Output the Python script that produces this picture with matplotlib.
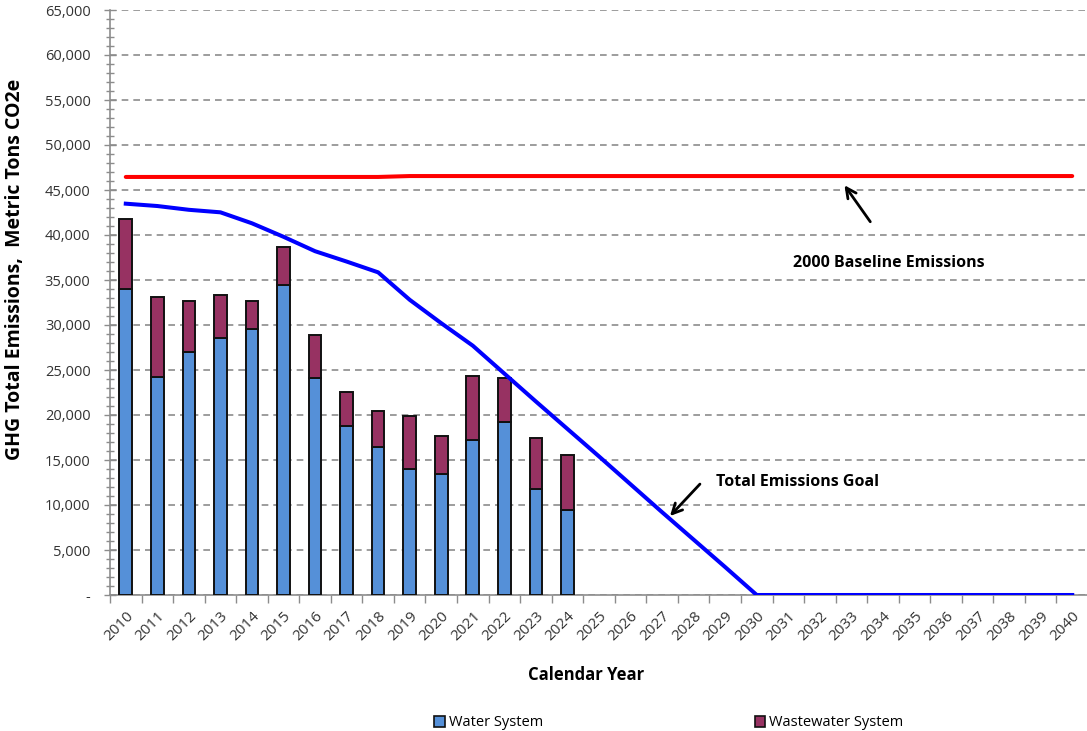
import matplotlib
matplotlib.use("Agg")
import matplotlib.pyplot as plt
from matplotlib.ticker import FuncFormatter, MultipleLocator, FixedLocator
from matplotlib.patches import Patch
import numpy as np

plt.rcParams['font.family'] = ['Open Sans', 'DejaVu Sans']

years = list(range(2010, 2041))
bar_years = list(range(2010, 2025))
water = [34000, 24200, 27000, 28600, 29600, 34500, 24100, 18800, 16500, 14000,
         13400, 17200, 19200, 11800, 9400]
total = [41800, 33100, 32700, 33300, 32700, 38700, 28900, 22600, 20400, 19900,
         17700, 24300, 24100, 17400, 15600]
wastewater = [t - w for t, w in zip(total, water)]

baseline = [46450] * 9 + [46550] * 22
goal = [43480, 43220, 42800, 42520, 41300, 39800, 38200, 37050, 35850, 32800,
        30200, 27700, 24600, 21500, 18450, 15400, 12300, 9200, 6150, 3100,
        0, 0, 0, 0, 0, 0, 0, 0, 0, 0, 0]

W, H = 1087, 731
fig = plt.figure(figsize=(W / 100, H / 100), dpi=100)
ax = fig.add_axes([110 / W, 1 - 595 / H, (1088 - 110) / W, (595 - 10) / H])

x_all = np.arange(len(years))
x_bar = np.arange(len(bar_years))

blue = '#5590D8'
maroon = '#973262'
ax.bar(x_bar, water, width=0.40, color=blue, edgecolor='#111111', linewidth=1.4, zorder=3)
ax.bar(x_bar, wastewater, bottom=water, width=0.40, color=maroon, edgecolor='#111111',
       linewidth=1.4, zorder=3)
ax.plot(x_all, baseline, color='#FF0000', lw=2.9, zorder=4, solid_capstyle='round')
ax.plot(x_all, goal, color='#0000FF', lw=2.9, zorder=4)

ax.set_xlim(-0.5, len(years) - 0.5)
ax.set_ylim(0, 65000)

ax.yaxis.set_major_locator(MultipleLocator(5000))
ax.yaxis.set_minor_locator(MultipleLocator(1000))
ax.yaxis.set_major_formatter(FuncFormatter(lambda v, p: '-' if v == 0 else f'{int(v):,}'))
ax.tick_params(axis='y', which='major', direction='inout', length=8, width=1, color='#8c8c8c',
               labelsize=10.5, pad=10, labelcolor='#333333')
ax.tick_params(axis='y', which='minor', direction='inout', length=6, width=1, color='#8c8c8c')

ax.xaxis.set_major_locator(FixedLocator(np.arange(-0.5, len(years), 1.0)))
ax.xaxis.set_minor_locator(FixedLocator(x_all))
ax.xaxis.set_major_formatter(FuncFormatter(lambda v, p: ''))
ax.xaxis.set_minor_formatter(FuncFormatter(lambda v, p: str(years[int(round(v))])))
ax.tick_params(axis='x', which='major', direction='out', length=6, width=1, color='#8c8c8c')
ax.tick_params(axis='x', which='minor', length=0, labelsize=11, pad=10, labelcolor='#333333')
for lab in ax.get_xticklabels(minor=True):
    lab.set_rotation(45)
    lab.set_ha('right')
    lab.set_va('top')
    lab.set_rotation_mode('anchor')

ax.grid(axis='y', which='major', linestyle=(0, (4, 3)), color='#8c8c8c', lw=1.2, zorder=0)
ax.set_axisbelow(True)
for s in ['top', 'right']:
    ax.spines[s].set_visible(False)
for s in ['left', 'bottom']:
    ax.spines[s].set_color('#8c8c8c')
    ax.spines[s].set_linewidth(1.2)

fig.text(15 / W, 1 - 269 / H, 'GHG Total Emissions,  Metric Tons CO2e', fontsize=14,
         fontweight='bold', rotation=90, ha='center', va='center')
fig.text(586 / W, 1 - 675 / H, 'Calendar Year', fontsize=12, fontweight='bold',
         ha='center', va='center')

# annotations
ax.annotate('', xy=(22.73, 45780), xytext=(23.65, 41220),
            arrowprops=dict(arrowstyle='->', color='black', lw=2.0, mutation_scale=18))
ax.text(24.19, 36900, '2000 Baseline Emissions', fontsize=11.5, fontweight='bold',
        ha='center', va='center')
ax.annotate('', xy=(17.19, 8550), xytext=(18.26, 12550),
            arrowprops=dict(arrowstyle='->', color='black', lw=2.0, mutation_scale=18))
ax.text(18.7, 12550, 'Total Emissions Goal', fontsize=11.5, fontweight='bold',
        ha='left', va='center')

handles = [Patch(facecolor=blue, edgecolor='#111111', lw=1.2, label='Water System'),
           Patch(facecolor=maroon, edgecolor='#111111', lw=1.2, label='Wastewater System')]
leg = fig.legend(handles=handles, loc='center', bbox_to_anchor=(669 / W, 1 - 723 / H), ncol=2,
                 frameon=False, fontsize=10.5, handlelength=0.7, handleheight=0.7,
                 handletextpad=0.3, columnspacing=14.5)

fig.savefig('out.png', dpi=100)
